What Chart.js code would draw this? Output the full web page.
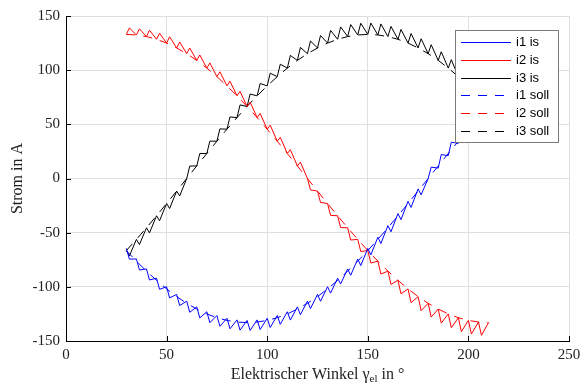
<!DOCTYPE html>
<html>
<head>
<meta charset="utf-8">
<script src="https://cdn.jsdelivr.net/npm/chart.js@4.4.1/dist/chart.umd.min.js"></script>
<style>
  body { margin: 0; background: #fff; }
  canvas { display: block; }
</style>
</head>
<body>
<canvas id="stromPlot" width="587" height="385"></canvas>
<script>
// Winkel der Messpunkte (is) und der Sollwerte
const angleIs = [30, 31.5, 35, 36.5, 40, 41.5, 45, 46.5, 50, 51.5, 55, 56.5, 60, 61.5, 65, 66.5, 70, 71.5, 75, 76.5,
    80, 81.5, 85, 86.5, 90, 91.5, 95, 96.5, 100, 101.5, 105, 106.5, 110, 111.5, 115, 116.5, 120, 121.5, 125, 126.5,
    130, 131.5, 135, 136.5, 140, 141.5, 145, 146.5, 150, 151.5, 155, 156.5, 160, 161.5, 165, 166.5, 170, 171.5, 175, 176.5,
    180, 181.5, 185, 186.5, 190, 191.5, 195, 196.5, 200, 201.5, 205, 206.5, 210]

const i1Is = [-64.5, -74.4, -74.3, -84.4, -83.5, -93.7, -92.0, -102.3, -99.9, -110.2, -107.0, -117.3, -113.2, -123.5,
    -118.5, -128.7, -123.0, -133.1, -126.5, -136.4, -129.0, -138.7, -130.5, -140.0, -131.0, -140.2, -130.5, -139.4,
    -129.0, -137.5, -126.5, -134.6, -123.0, -130.7, -118.5, -125.7, -113.2, -120.1, -107.0, -113.3, -99.9, -105.8,
    -92.0, -97.3, -83.5, -89.3, -74.3, -80.4, -64.5, -70.5, -54.2, -60.0, -43.5, -49.2, -32.4, -38.0, -21.1, -26.7,
    -9.6, -15.1, 0, 10.5, 9.6, 22.1, 21.1, 33.5, 32.4, 44.8, 43.5, 55.8, 54.2, 66.4, 64.5]

const i2Is = [133, 139.0, 132.5, 138.2, 131.0, 136.9, 128.5, 134.1, 125.0, 130.8, 120.5, 126.0, 115.2, 120.5,
    109.0, 114.0, 101.9, 106.7, 94.0, 98.5, 85.5, 89.8, 76.3, 80.4, 66.5, 70.5, 56.2, 60.0, 45.5, 49.2, 34.4, 38.0,
    23.1, 26.7, 11.6, 15.1, 0, -10.5, -11.6, -22.1, -23.1, -34.0, -34.4, -45.3, -45.5, -56.8, -56.2, -67.4,
    -66.5, -78.0, -76.3, -88.2, -85.5, -97.7, -94.0, -106.5, -101.9, -114.6, -109.0, -122.0, -115.2, -127.9,
    -120.5, -133.5, -125.0, -137.7, -128.5, -141.4, -131.0, -143.6, -132.5, -144.8, -133]

const i3Is = [-66.5, -71.5, -56.2, -61.0, -45.5, -50.2, -34.4, -39.0, -23.1, -27.7, -11.6, -16.1, 0, 11.5,
    11.6, 23.1, 23.1, 34.5, 34.4, 45.8, 45.5, 56.8, 56.2, 67.9, 66.5, 78.0, 76.3, 87.7, 85.5, 97.2, 94.0, 105.5,
    101.9, 113.6, 109.0, 121.0, 115.2, 126.9, 120.5, 132.0, 125.0, 136.7, 128.5, 139.9, 131.0, 142.1, 132.5, 143.3,
    133.0, 143.5, 132.5, 142.7, 131.0, 140.4, 128.5, 137.6, 125.0, 133.8, 120.5, 129.0, 115.2, 123.5,
    109.0, 117.0, 101.9, 109.7, 94.0, 101.5, 85.5, 92.8, 76.3, 83.4, 66.5]

const angleSoll = [30, 35, 40, 45, 50, 55, 60, 65, 70, 75, 80, 85, 90, 95, 100, 105, 110, 115, 120, 125,
    130, 135, 140, 145, 150, 155, 160, 165, 170, 175, 180, 185, 190, 195, 200, 205, 210]

const i1Soll = [-66.5, -76.3, -85.5, -94.0, -101.9, -109.0, -115.2, -120.5, -125.0, -128.5, -131.0, -132.5, -133,
    -132.5, -131.0, -128.5, -125.0, -120.5, -115.2, -109.0, -101.9, -94.0, -85.5, -76.3, -66.5, -56.2, -45.5,
    -34.4, -23.1, -11.6, 0, 11.6, 23.1, 34.4, 45.5, 56.2, 66.5]

const i2Soll = [133, 132.5, 131.0, 128.5, 125.0, 120.5, 115.2, 109.0, 101.9, 94.0, 85.5, 76.3, 66.5, 56.2, 45.5,
    34.4, 23.1, 11.6, 0, -11.6, -23.1, -34.4, -45.5, -56.2, -66.5, -76.3, -85.5, -94.0, -101.9, -109.0, -115.2,
    -120.5, -125.0, -128.5, -131.0, -132.5, -133]

const i3Soll = [-66.5, -56.2, -45.5, -34.4, -23.1, -11.6, 0, 11.6, 23.1, 34.4, 45.5, 56.2, 66.5, 76.3, 85.5, 94.0,
    101.9, 109.0, 115.2, 120.5, 125.0, 128.5, 131.0, 132.5, 133, 132.5, 131.0, 128.5, 125.0, 120.5, 115.2, 109.0,
    101.9, 94.0, 85.5, 76.3, 66.5]

const xTicks = [0, 50, 100, 150, 200, 250]
const yTicks = [-150, -100, -50, 0, 50, 100, 150]

const toPoints = (xs, ys) => xs.map((x, i) => ({ x: x, y: ys[i] }))

const serif = '"Liberation Serif", "DejaVu Serif", serif'

// Achsentitel, Tick-Striche und Legende selbst zeichnen
const extras = {
    id: 'extras',
    afterDraw (chart) {
        const ctx = chart.ctx
        const area = chart.chartArea
        const xs = chart.scales.x
        const ys = chart.scales.y

        // kurze Ticks nach innen
        ctx.save()
        ctx.strokeStyle = '#000'
        ctx.lineWidth = 1
        ctx.beginPath()
        xTicks.forEach((t) => {
            const px = Math.round(xs.getPixelForValue(t)) + 0.5
            ctx.moveTo(px, area.bottom)
            ctx.lineTo(px, area.bottom - 5)
        })
        yTicks.forEach((t) => {
            const py = Math.round(ys.getPixelForValue(t)) + 0.5
            ctx.moveTo(area.left, py)
            ctx.lineTo(area.left + 5, py)
        })
        ctx.stroke()
        ctx.restore()

        // x-Achsentitel mit Index
        ctx.save()
        ctx.fillStyle = '#222'
        ctx.textBaseline = 'alphabetic'
        ctx.textAlign = 'left'
        const big = '16px ' + serif
        const small = '11px ' + serif
        const partA = 'Elektrischer Winkel \u03b3'
        const partB = 'el'
        const partC = ' in \u00b0'
        ctx.font = big
        const wA = ctx.measureText(partA).width
        const wC = ctx.measureText(partC).width
        ctx.font = small
        const wB = ctx.measureText(partB).width
        let tx = (area.left + area.right) / 2 - (wA + wB + wC) / 2
        const ty = 379
        ctx.font = big
        ctx.fillText(partA, tx, ty)
        tx += wA
        ctx.font = small
        ctx.fillText(partB, tx, ty + 3)
        tx += wB
        ctx.font = big
        ctx.fillText(partC, tx, ty)
        ctx.restore()

        // y-Achsentitel
        ctx.save()
        ctx.fillStyle = '#222'
        ctx.font = '16px ' + serif
        ctx.textAlign = 'center'
        ctx.textBaseline = 'middle'
        ctx.translate(18, (area.top + area.bottom) / 2)
        ctx.rotate(-Math.PI / 2)
        ctx.fillText('Strom in A', 0, 0)
        ctx.restore()

        // Legende
        ctx.save()
        ctx.fillStyle = '#fff'
        ctx.fillRect(456, 30, 102, 112)
        ctx.strokeStyle = '#7a7a7a'
        ctx.lineWidth = 1
        ctx.strokeRect(455.5, 30.5, 103, 112)
        ctx.font = '13px "Liberation Sans", Arial, sans-serif'
        ctx.textBaseline = 'middle'
        ctx.textAlign = 'left'
        chart.data.datasets.forEach((ds, i) => {
            const y = Math.round(42 + i * 17.8) + 0.5
            ctx.strokeStyle = ds.borderColor
            ctx.setLineDash(ds.borderDash || [])
            ctx.beginPath()
            ctx.moveTo(461, y)
            ctx.lineTo(511, y)
            ctx.stroke()
            ctx.setLineDash([])
            ctx.fillStyle = '#000'
            ctx.fillText(ds.label, 516, y)
        })
        ctx.restore()
    }
}

const line = (label, color, points, dash) => ({
    label: label,
    data: points,
    borderColor: color,
    borderWidth: 1,
    borderDash: dash,
    pointRadius: 0,
    fill: false,
    tension: 0
})

new Chart(document.getElementById('stromPlot'), {
    type: 'line',
    data: {
        datasets: [
            line('i1 is', '#0000ff', toPoints(angleIs, i1Is), []),
            line('i2 is', '#ff0000', toPoints(angleIs, i2Is), []),
            line('i3 is', '#000000', toPoints(angleIs, i3Is), []),
            line('i1 soll', '#0000ff', toPoints(angleSoll, i1Soll), [9, 8]),
            line('i2 soll', '#ff0000', toPoints(angleSoll, i2Soll), [9, 8]),
            line('i3 soll', '#000000', toPoints(angleSoll, i3Soll), [9, 8])
        ]
    },
    options: {
        responsive: false,
        animation: false,
        layout: { padding: { top: 16, right: 18, left: 0, bottom: 0 } },
        plugins: {
            legend: { display: false },
            tooltip: { enabled: false }
        },
        scales: {
            x: {
                type: 'linear',
                min: 0,
                max: 250,
                afterFit: (s) => { s.height = 44 },
                afterBuildTicks: (s) => { s.ticks = xTicks.map((v) => ({ value: v })) },
                grid: { color: '#dfdfdf', drawTicks: false },
                border: { color: '#000', width: 1 },
                ticks: { padding: 5, color: '#222', font: { family: serif, size: 15 }, maxRotation: 0 }
            },
            y: {
                type: 'linear',
                min: -150,
                max: 150,
                afterFit: (s) => { s.width = 66 },
                afterBuildTicks: (s) => { s.ticks = yTicks.map((v) => ({ value: v })) },
                grid: { color: '#dfdfdf', drawTicks: false },
                border: { color: '#000', width: 1 },
                ticks: { padding: 6, color: '#222', font: { family: serif, size: 15 } }
            }
        }
    },
    plugins: [extras]
})
</script>
</body>
</html>
